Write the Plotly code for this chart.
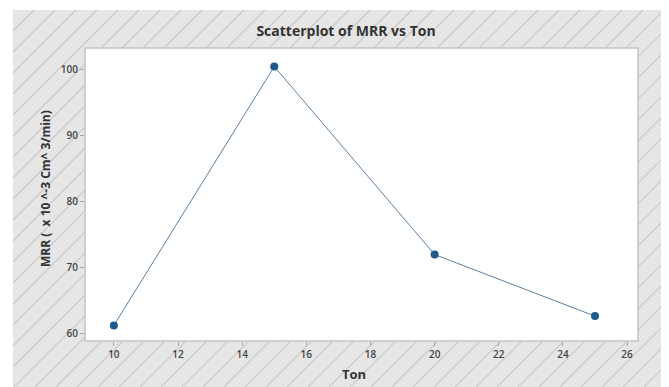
import plotly.graph_objects as go

# Data
ton = [10, 15, 20, 25]
mrr = [61.3, 100.4, 72.0, 62.7]
x_ticks = [10, 12, 14, 16, 18, 20, 22, 24, 26]
y_ticks = [60, 70, 80, 90, 100]

# The page body adds an 8px margin; the figure covers the visible area after it.
OFF = 8
W, H = 669 - OFF, 387 - OFF
# plot-area box in reference pixels
PL, PR, PT, PB = 85, 638, 48, 341
# gray hatched frame in reference pixels
GL, GR, GT, GB = 13, 669, 10, 387


def px(x):
    return (x - OFF) / W


def py(y):
    return 1 - (y - OFF) / H


# hatch path ("/" lines), in reference pixels
k = 1.0  # dy/dx steepness
step = 21
segs = []
c = GL - (GB - GT) / k - step
while c < GR + step:
    ya = max(GT, GB - (GR - c) * k)
    yb = min(GB, GB - (GL - c) * k)
    if ya < yb:
        xa = c + (GB - ya) / k
        xb = c + (GB - yb) / k
        segs.append(f"M{px(xb):.5f},{py(yb):.5f}L{px(xa):.5f},{py(ya):.5f}")
    c += step
hatch_path = "".join(segs)

fig = go.Figure()
fig.add_trace(go.Scatter(
    x=ton, y=mrr, mode="lines+markers",
    line=dict(color="#5f7f9c", width=1),
    marker=dict(color="#1f5a8c", size=8),
    showlegend=False,
))

shapes = [
    dict(type="rect", xref="paper", yref="paper", x0=px(GL), x1=px(GR) + 0.02, y0=py(GB) - 0.02, y1=py(GT),
         fillcolor="#e6e6e6", line=dict(width=0), layer="below"),
    dict(type="path", xref="paper", yref="paper", path=hatch_path,
         line=dict(color="#c8c8c8", width=1.1), layer="below"),
    dict(type="rect", xref="paper", yref="paper", x0=px(PL), x1=px(PR), y0=py(PB), y1=py(PT),
         fillcolor="white", line=dict(color="#c4c4c4", width=1.5), layer="below"),
]

font_family = "Open Sans, Noto Sans, sans-serif"

fig.update_layout(
    width=W, height=H,
    margin=dict(l=0, r=0, t=0, b=0),
    paper_bgcolor="white", plot_bgcolor="white",
    shapes=shapes,
    font=dict(family=font_family, color="#333333"),
    title=dict(text="<b>Scatterplot of MRR vs Ton</b>", x=px(346), xanchor="center",
               y=py(31), yanchor="middle", yref="container",
               font=dict(size=14, color="#333333", family=font_family)),
    xaxis=dict(domain=[px(PL), px(PR)], range=[9.1, 26.34], tickvals=x_ticks,
               ticks="outside", ticklen=4, tickcolor="#aaaaaa", showgrid=False,
               zeroline=False, showline=False, automargin=False,
               tickfont=dict(size=10, color="#444444", weight=600)),
    yaxis=dict(domain=[py(PB), py(PT)], range=[58.94, 103.2], tickvals=y_ticks,
               ticks="outside", ticklen=4, tickcolor="#aaaaaa", showgrid=False,
               zeroline=False, showline=False, automargin=False,
               tickfont=dict(size=10, color="#444444", weight=600)),
    annotations=[
        dict(text="<b>Ton</b>", xref="paper", yref="paper", x=px(354), y=py(374),
             xanchor="center", yanchor="middle", showarrow=False,
             font=dict(size=13, color="#333333")),
        dict(text="<b>MRR (  x 10 ^-3 Cm^ 3/min)</b>", xref="paper", yref="paper",
             x=px(46), y=py(189), xanchor="center", yanchor="middle", textangle=-90,
             showarrow=False, font=dict(size=12, color="#333333")),
    ],
)

fig.write_html("out.html")
